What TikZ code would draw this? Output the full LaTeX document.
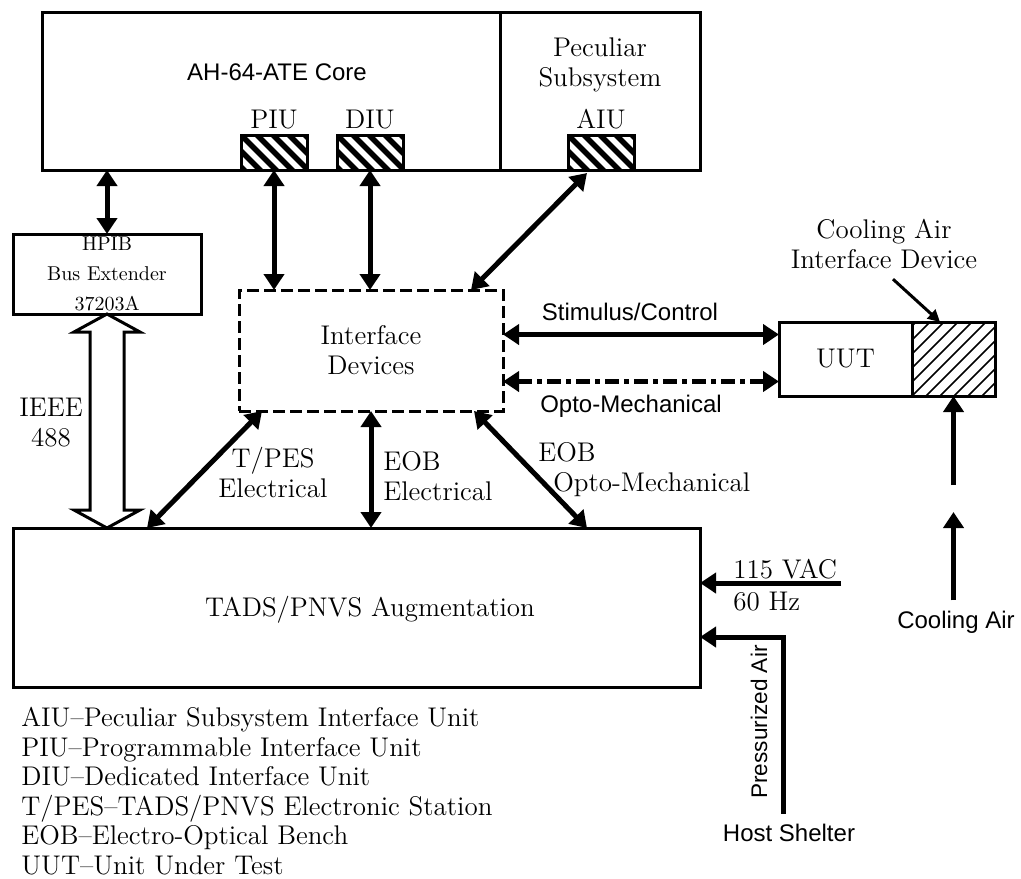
\documentclass[tikz,border=0pt]{standalone}
\usepackage{fontspec}
\setsansfont{Liberation Sans}
\usepackage{tikz}
\usetikzlibrary{arrows.meta, positioning, calc}
\tikzset{
    box/.style={rectangle, draw, line width=1.5pt, outer sep=0pt, inner sep=0pt},
    hatch/.style={rectangle, outer sep=0pt, minimum width=33pt, minimum height=17.5pt},
    dashbox/.style={box, dash pattern=on 6pt off 2.5pt},
    serif/.style={font=\fontsize{13.5}{15}\selectfont, align=center, inner sep=0pt},
    small/.style={font=\fontsize{10}{15}\selectfont, align=center, inner sep=0pt},
    sans/.style={font=\sffamily\fontsize{12}{14}\selectfont, inner sep=0pt},
    arrow/.style={{Triangle[length=8pt, width=10pt]}-{Triangle[length=8pt, width=10pt]}, line width=2.5pt},
    optoarrow/.style={arrow, dash pattern=on 7pt off 2.5pt on 2.5pt off 2.5pt},
    feed/.style={-{Triangle[length=8pt, width=10pt]}, line width=2.5pt},
    pointer/.style={-{Triangle[length=6pt, width=6pt]}, line width=1.5pt}
}
\begin{document}
\begin{tikzpicture}[x=0.5pt, y=-0.5pt]
\useasboundingbox (0,0) rectangle (1021,878);

% ATE core and peculiar subsystem
\node (core) [box, minimum width=229pt, minimum height=79pt, anchor=north west] at (42,12) {};
\node (pss) [box, minimum width=100pt, minimum height=79pt, right=0pt of core] {};
\node (coretxt) [sans] at (277,72) {AH-64-ATE Core};
\node (psstxt) [serif] at (600,65) {Peculiar\\Subsystem};

% interface units
\node (piu) [hatch, anchor=south] at (274,170) {};
\node (diu) [hatch, anchor=south] at (370,170) {};
\node (aiu) [hatch, anchor=south] at (601,170) {};
\foreach \u in {piu,diu,aiu} {
    \begin{scope}
        \clip (\u.south west) rectangle (\u.north east);
        \foreach \k in {-3,...,5}
            \draw[line width=2.8pt] ($(\u.north west)+(\k*16,0)$) -- ++(40,40);
    \end{scope}
    \draw[line width=1.5pt] (\u.south west) rectangle (\u.north east);
}
\node (piulbl) [serif, above=3pt of piu] {PIU};
\node (diulbl) [serif, above=3pt of diu] {DIU};
\node (aiulbl) [serif, above=3pt of aiu] {AIU};

% bus extender, interface devices, augmentation
\node (hpib) [box, small, minimum width=94pt, minimum height=40pt, anchor=north west] at (13,234) {HPIB\\Bus Extender\\37203A};
\node (ifd) [dashbox, serif, minimum width=132pt, minimum height=60.5pt, anchor=north west] at (239,290) {Interface\\Devices};
\node (tads) [box, minimum width=343.5pt, minimum height=79.5pt, anchor=north west] at (13,528) {};
\node (tadstxt) [serif] at (370,610) {TADS/PNVS Augmentation};

% unit under test
\node (uut) [box, serif, minimum width=66.5pt, minimum height=37pt, anchor=north west] at (779,322) {UUT};
\node (cad) [box, minimum width=41.5pt, minimum height=37pt, right=0pt of uut] {};
\begin{scope}
    \clip (cad.south west) rectangle (cad.north east);
    \foreach \k in {-6,...,6}
        \draw[line width=0.8pt] ($(cad.south west)+(\k*14,0)$) -- ++(90,-90);
\end{scope}
\node (cadtxt) [serif] at (884,244) {Cooling Air\\Interface Device};
\draw[pointer] ([xshift=4.5pt, yshift=-5pt]cadtxt.south) -- ([xshift=14pt]cad.north west);

% links to the core
\draw[arrow] (hpib.north |- core.south) -- (hpib.north);
\draw[arrow] (piu.south) -- (piu.south |- ifd.north);
\draw[arrow] (diu.south) -- (diu.south |- ifd.north);
\draw[arrow] ([xshift=-7pt, yshift=-1.5pt]aiu.south) -- ([xshift=-16pt]ifd.north east);

% IEEE 488
\coordinate (ieeeT) at (hpib.south);
\coordinate (ieeeB) at (hpib.south |- tads.north);
\draw[line width=1.5pt, fill=white] (ieeeT) -- ($(ieeeT)+(-33,18)$) -- ($(ieeeT)+(-17,18)$) -- ($(ieeeB)+(-17,-18)$)
    -- ($(ieeeB)+(-33,-18)$) -- (ieeeB) -- ($(ieeeB)+(33,-18)$) -- ($(ieeeB)+(17,-18)$)
    -- ($(ieeeT)+(17,18)$) -- ($(ieeeT)+(33,18)$) -- cycle;
\node (ieeetxt) [serif] at (51,423) {IEEE\\488};

% links to the augmentation
\draw[arrow] ([xshift=11.5pt]ifd.south west) -- ([xshift=67pt]tads.north west);
\draw[arrow] (ifd.south) -- (ifd.south |- tads.north);
\draw[arrow] ([xshift=-14.5pt]ifd.south east) -- ([xshift=-56.5pt]tads.north east);
\node (tpestxt) [serif] at (273,473) {T/PES\\Electrical};
\node (eobetxt) [serif, align=left, anchor=west] at (383,476) {EOB\\Electrical};
\node (eobotxt) [serif, align=left, anchor=west] at (538,470) {EOB\\\hspace*{7.5pt}Opto-Mechanical};

% links to the UUT
\coordinate (stim) at ([yshift=8pt]ifd.east);
\coordinate (opto) at ([yshift=-15.5pt]ifd.east);
\draw[arrow] (stim) -- (stim -| uut.west);
\draw[optoarrow] (opto) -- (opto -| uut.west);
\node (stimtxt) [sans] at (630,312) {Stimulus/Control};
\node (optotxt) [sans] at (631,406) {Opto-Mechanical};

% supplies
\coordinate (vac) at (841,583);
\draw[feed] (vac) -- (vac -| tads.east);
\node (vactxt) [serif, anchor=south west] at (733,579) {115 VAC};
\node (hztxt) [serif, anchor=north west] at (733,592) {60 Hz};
\node (host) [sans] at (789,833) {Host Shelter};
\coordinate (pbot) at ([yshift=5pt]host.north);
\coordinate (pbend) at (783,637);
\draw[feed] (pbot -| pbend) -- (pbend) -- (pbend -| tads.east);
\node (pairtxt) [sans, font=\sffamily\fontsize{11.3}{13}\selectfont, rotate=90] at (759,722) {Pressurized Air};
\node (cairtxt) [sans] at (956,622) {Cooling Air};
\coordinate (cbot) at ([yshift=5pt]cairtxt.north);
\coordinate (cgapb) at (953.5,512);
\coordinate (cgapt) at (953.5,485);
\draw[feed] (cbot -| cad.south) -- (cgapb);
\draw[feed] (cgapt) -- (cad.south);

% legend
\node (legend) [anchor=north west, align=left, inner sep=0pt, font=\fontsize{13.5}{14.75}\selectfont] at (21,707) {%
AIU\textendash Peculiar Subsystem Interface Unit\\
PIU\textendash Programmable Interface Unit\\
DIU\textendash Dedicated Interface Unit\\
T/PES\textendash TADS/PNVS Electronic Station\\
EOB\textendash Electro-Optical Bench\\
UUT\textendash Unit Under Test};
\end{tikzpicture}
\end{document}
